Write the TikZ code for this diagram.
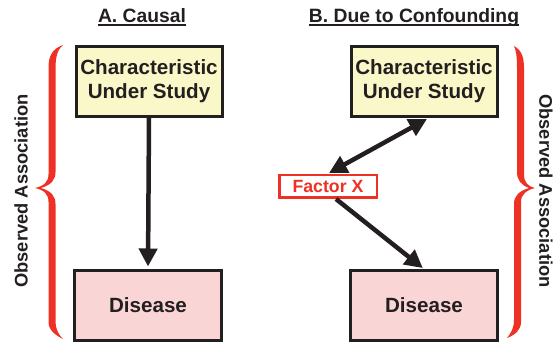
\documentclass[tikz,border=0pt]{standalone}
\usepackage{fontspec}
\setmainfont{Liberation Sans}
\usetikzlibrary{arrows.meta,calc}
\definecolor{ink}{HTML}{231F20}
\definecolor{boxyellow}{HTML}{FAF7C8}
\definecolor{boxpink}{HTML}{F9D5D6}
\definecolor{bracered}{HTML}{EE3124}
\begin{document}
\begin{tikzpicture}[x=1pt,y=-1pt,
  box/.style={draw=ink,line width=3pt,inner sep=0pt,text=ink,align=center,
    font=\bfseries\fontsize{20.6}{24}\selectfont},
  charbox/.style={box,fill=boxyellow,minimum width=146pt,minimum height=70pt},
  disbox/.style={box,fill=boxpink,minimum width=147pt,minimum height=70pt},
  factorbox/.style={draw=bracered,fill=white,line width=2.5pt,inner sep=0pt,text=bracered,
    minimum width=97.5pt,minimum height=22.5pt,font=\bfseries\fontsize{17.7}{20}\selectfont},
  title/.style={inner sep=0pt,text=ink,anchor=base,font=\bfseries\fontsize{19.3}{22}\selectfont},
  sidetext/.style={inner sep=0pt,text=ink,font=\bfseries\fontsize{18.3}{22}\selectfont},
  conn/.style={draw=ink,line width=4.5pt},
  brace/.style={fill=bracered,draw=none}]
\useasboundingbox (0,0) rectangle (558,342);

% titles
\node[title] (tA) at (142,23) {A. Causal};
\node[title] (tB) at (414,23) {B. Due to Confounding};
\draw[ink,line width=2pt] ([yshift=-2.5pt]tA.base west) -- ([yshift=-2.5pt]tA.base east);
\draw[ink,line width=2pt] ([yshift=-2.5pt]tB.base west) -- ([yshift=-2.5pt]tB.base east);

% boxes
\node[charbox] (cA) at (149,81.5) {Characteristic\\Under Study};
\node[disbox]  (dA) at (148,305.5) {Disease};
\node[charbox] (cB) at (424,81.5) {Characteristic\\Under Study};
\node[disbox]  (dB) at (424,305.5) {Disease};
\node[factorbox] (fx) at (328,186.5) {Factor X};

% connectors
\draw[conn,-{Triangle[length=18pt,width=18pt]},shorten >=2.5pt] (cA.south) -- (dA.north);
\draw[conn,{Triangle[length=18pt,width=18pt]}-{Triangle[length=18pt,width=18pt]}]
  ([xshift=1pt,yshift=1pt]fx.north) -- ([xshift=3pt,yshift=-1pt]cB.south);
\draw[conn,-{Triangle[length=18pt,width=18pt]},shorten >=1.5pt]
  ([xshift=8pt]fx.south) -- (dB.north);

% left brace
\path[brace] (63,45) .. controls (52,49) and (48.5,56) .. (48.5,68) -- (48.5,174)
  .. controls (48.5,182) and (44,186) .. (35,188)
  .. controls (44,190) and (48.5,194) .. (48.5,202) -- (48.5,322)
  .. controls (48.5,330) and (55,335) .. (63,339)
  .. controls (59,335) and (55.5,330) .. (55.5,320) -- (55.5,204)
  .. controls (55.5,196) and (51,191) .. (41,188)
  .. controls (51,185) and (55.5,180) .. (55.5,172) -- (55.5,68)
  .. controls (55.5,56) and (58,49) .. (63,45) -- cycle;

% right brace
\path[brace] (514,46) .. controls (521,50) and (524,56) .. (524,68) -- (524,174)
  .. controls (524,182) and (527,186) .. (535,188)
  .. controls (527,190) and (521,194) .. (521,202) -- (521,322)
  .. controls (521,330) and (515,335) .. (507,338)
  .. controls (511,333) and (514,328) .. (514,320) -- (514,204)
  .. controls (514,196) and (519,191) .. (529,188)
  .. controls (521,185) and (517,180) .. (517,172) -- (517,68)
  .. controls (517,56) and (516,50) .. (514,46) -- cycle;

% side labels
\node[sidetext,rotate=90] (oL) at (21,191) {Observed Association};
\node[sidetext,rotate=-90] (oR) at (546,191) {Observed Association};
\end{tikzpicture}
\end{document}
